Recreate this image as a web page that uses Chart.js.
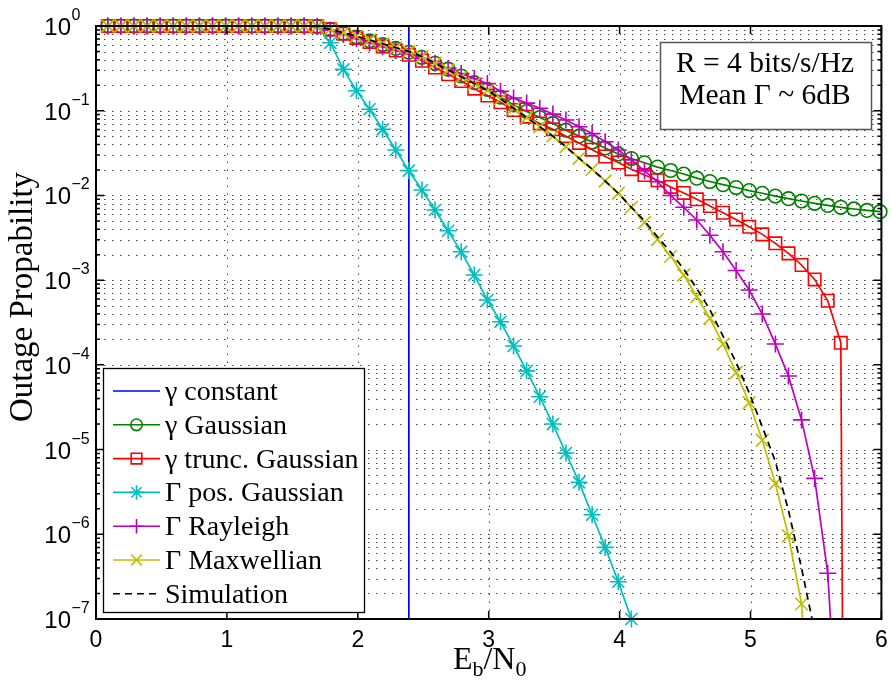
<!DOCTYPE html>
<html><head><meta charset="utf-8">
<script src="https://cdn.jsdelivr.net/npm/chart.js@4.4.1/dist/chart.umd.min.js"></script>
<style>html,body{margin:0;padding:0;background:#fff}#wrap{width:892px;height:682px;position:relative}</style>
</head><body><div id="wrap"><canvas id="c" width="892" height="682"></canvas></div>
<script>
// ---- data ----
const ebn0 = [0.09,0.19,0.29,0.39,0.49,0.59,0.69,0.79,0.89,0.99,1.09,1.19,1.29,1.39,1.49,1.59,1.69,1.79,1.89,1.99,2.09,2.19,2.29,2.39,2.49,2.59,2.69,2.79,2.89,2.99,3.09,3.19,3.29,3.39,3.49,3.59,3.69,3.79,3.89,3.99,4.09,4.19,4.29,4.39,4.49,4.59,4.69,4.79,4.89,4.99,5.09,5.19,5.29,5.39,5.49,5.59,5.69,5.79,5.89,5.99];
const constX = [0.09, 2.39, 2.39];
const constY = [1, 1, 1e-30];
const gaussY = [1,1,1,1,1,1,1,1,1,1,1,1,1,1,1,1,0.99,0.912,0.822,0.741,0.668,0.603,0.543,0.490,0.427,0.363,0.309,0.257,0.214,0.178,0.145,0.117,0.0977,0.0832,0.0708,0.0589,0.0501,0.0427,0.0363,0.0309,0.0272,0.0243,0.0216,0.0197,0.0179,0.0160,0.0146,0.0134,0.0124,0.0114,0.0106,0.00982,0.00916,0.00859,0.00807,0.00762,0.00724,0.00692,0.00665,0.00643];
const truncY = [1,1,1,1,1,1,1,1,1,1,1,1,1,1,1,1,0.99,0.912,0.813,0.724,0.646,0.575,0.513,0.457,0.389,0.324,0.269,0.224,0.182,0.151,0.126,0.102,0.0851,0.0708,0.0603,0.0501,0.0417,0.0347,0.0288,0.0245,0.0204,0.0174,0.0151,0.0126,0.0107,0.0090,0.0075,0.00625,0.00521,0.00427,0.00347,0.00272,0.00207,0.00151,0.00102,0.000571,0.000182,1e-30];
const posGaussY = [1,1,1,1,1,1,1,1,1,1,1,1,1,1,1,1,0.99,0.635,0.308,0.172,0.104,0.0603,0.0344,0.0196,0.0116,0.00673,0.00383,0.00216,0.00115,5.82e-4,3.23e-4,1.67e-4,8.5e-5,4.2e-5,2.0e-5,9.1e-6,4.1e-6,1.7e-6,7.0e-7,2.75e-7,1.0e-7];
const rayleighY = [1,1,1,1,1,1,1,1,1,1,1,1,1,1,1,1,0.98,0.891,0.794,0.708,0.631,0.569,0.513,0.468,0.417,0.363,0.316,0.275,0.240,0.209,0.170,0.141,0.123,0.107,0.0912,0.0776,0.0646,0.0537,0.0431,0.0344,0.0263,0.0195,0.0145,0.0100,0.00724,0.00513,0.00339,0.00216,0.00130,7.64e-4,3.98e-4,1.76e-4,7.4e-5,2.24e-5,4.57e-6,3.47e-7,1e-9];
const maxwellY = [1,1,1,1,1,1,1,1,1,1,1,1,1,1,1,1,0.99,0.912,0.832,0.759,0.684,0.617,0.556,0.501,0.437,0.363,0.302,0.251,0.209,0.174,0.138,0.107,0.0832,0.0646,0.0501,0.0376,0.0275,0.0204,0.0148,0.0106,0.00724,0.00479,0.00302,0.00191,0.00115,6.37e-4,3.55e-4,1.76e-4,8.13e-5,3.57e-5,1.29e-5,3.98e-6,9.55e-7,1.51e-7,6e-10];
const simY = [1,1,1,1,1,1,1,1,1,1,1,1,1,1,1,1,0.99,0.912,0.832,0.759,0.684,0.617,0.556,0.501,0.437,0.363,0.302,0.251,0.209,0.174,0.138,0.107,0.0832,0.0646,0.0501,0.0376,0.0275,0.0204,0.0148,0.0106,0.00724,5.01e-3,3.24e-3,2.14e-3,1.35e-3,7.94e-4,4.47e-4,2.19e-4,1.07e-4,4.68e-5,1.86e-5,7.24e-6,1.91e-6,3.98e-7,7.1e-8,1e-10];
const seriesLabels = ['\u03B3 constant','\u03B3 Gaussian','\u03B3 trunc. Gaussian','\u0393 pos. Gaussian','\u0393 Rayleigh','\u0393 Maxwellian','Simulation'];
const xTickValues = [0,1,2,3,4,5,6];
const xTickLabels = ['0','1','2','3','4','5','6'];
const yTickExponents = [0,-1,-2,-3,-4,-5,-6,-7];
const annotationLines = ['R = 4 bits/s/Hz', 'Mean \u0393 ~ 6dB'];

// ---- build ----
const pts = (ys, xs) => ys.map((v, i) => ({x: (xs || ebn0)[i], y: v}));
const SERIF = '"Liberation Serif", "DejaVu Serif", serif';
const SANS = '"Liberation Sans", Arial, sans-serif';
const clipStd = {left: 12, top: 12, right: 12, bottom: 0};
const styles = [
  {color:'#0000FF', marker:null, r:0},
  {color:'#008000', marker:'circle', r:6.8},
  {color:'#FF0000', marker:'rect', r:8.8},
  {color:'#00BFBF', marker:'star', r:8.5},
  {color:'#BF00BF', marker:'cross', r:8.5},
  {color:'#BFBF00', marker:'crossRot', r:9},
  {color:'#000000', marker:null, r:0, dash:[7,5]}
];
const datas = [pts(constY, constX), pts(gaussY), pts(truncY), pts(posGaussY), pts(rayleighY), pts(maxwellY), pts(simY)];
const datasets = datas.map((d, i) => ({
  label: seriesLabels[i],
  data: d,
  borderColor: styles[i].color,
  backgroundColor: 'rgba(0,0,0,0)',
  borderWidth: 1.7,
  borderDash: styles[i].dash || [],
  pointStyle: styles[i].marker || 'circle',
  pointRadius: styles[i].r,
  pointHoverRadius: styles[i].r,
  pointBorderColor: styles[i].color,
  pointBackgroundColor: 'rgba(0,0,0,0)',
  pointBorderWidth: 1.6,
  tension: 0,
  fill: false,
  order: 6 - i,
  clip: i === 3 ? {left: 12, top: 12, right: 12, bottom: 12} : clipStd
}));

function drawMarker(ctx, type, x, y, r) {
  ctx.beginPath();
  if (type === 'circle') { ctx.arc(x, y, r, 0, Math.PI * 2); }
  else if (type === 'rect') { const s = Math.SQRT1_2 * r; ctx.rect(x - s, y - s, 2 * s, 2 * s); }
  else {
    if (type === 'cross' || type === 'star') { ctx.moveTo(x, y - r); ctx.lineTo(x, y + r); ctx.moveTo(x - r, y); ctx.lineTo(x + r, y); }
    if (type === 'crossRot' || type === 'star') { const o = Math.SQRT1_2 * r; ctx.moveTo(x - o, y - o); ctx.lineTo(x + o, y + o); ctx.moveTo(x - o, y + o); ctx.lineTo(x + o, y - o); }
  }
  ctx.stroke();
}

const matlabPlugin = {
  id: 'matlab',
  beforeDraw(chart) {
    const ctx = chart.ctx; ctx.save(); ctx.fillStyle = '#fff'; ctx.fillRect(0, 0, chart.width, chart.height); ctx.restore();
  },
  beforeDatasetsDraw(chart) {
    const ctx = chart.ctx, a = chart.chartArea, xs = chart.scales.x, ys = chart.scales.y;
    ctx.save();
    ctx.strokeStyle = '#444'; ctx.lineWidth = 1; ctx.setLineDash([1.5, 6.5]);
    xTickValues.forEach(v => {
      if (v <= xs.min || v >= xs.max) return;
      const px = Math.round(xs.getPixelForValue(v)) + 0.5;
      ctx.beginPath(); ctx.moveTo(px, a.bottom); ctx.lineTo(px, a.top); ctx.stroke();
    });
    for (let k = -7; k <= -1; k++) {
      for (let m = 1; m <= 9; m++) {
        const v = m * Math.pow(10, k);
        if (v <= ys.min * 1.0001) continue;
        const py = Math.round(ys.getPixelForValue(v)) + 0.5;
        ctx.beginPath(); ctx.moveTo(a.left, py); ctx.lineTo(a.right, py); ctx.stroke();
      }
    }
    ctx.restore();
  },
  afterDatasetsDraw(chart) {
    const ctx = chart.ctx, a = chart.chartArea, xs = chart.scales.x, ys = chart.scales.y;
    ctx.save();
    ctx.setLineDash([]);
    // axes box
    ctx.strokeStyle = '#000'; ctx.lineWidth = 2;
    ctx.strokeRect(a.left, a.top, a.right - a.left, a.bottom - a.top);
    // ticks
    ctx.lineWidth = 1.5;
    xTickValues.forEach(v => {
      const px = xs.getPixelForValue(v);
      ctx.beginPath(); ctx.moveTo(px, a.bottom); ctx.lineTo(px, a.bottom - 8);
      ctx.moveTo(px, a.top); ctx.lineTo(px, a.top + 8); ctx.stroke();
    });
    for (let k = -7; k <= 0; k++) {
      for (let m = 1; m <= 9; m++) {
        const v = m * Math.pow(10, k);
        if (v > 1.0001) break;
        const py = ys.getPixelForValue(v);
        const len = m === 1 ? 8 : 4;
        ctx.beginPath(); ctx.moveTo(a.left, py); ctx.lineTo(a.left + len, py);
        ctx.moveTo(a.right, py); ctx.lineTo(a.right - len, py); ctx.stroke();
      }
    }
    // tick labels
    ctx.fillStyle = '#000';
    ctx.font = '23px ' + SANS; ctx.textAlign = 'center'; ctx.textBaseline = 'alphabetic';
    xTickValues.forEach((v, i) => { ctx.fillText(xTickLabels[i], xs.getPixelForValue(v), a.bottom + 28); });
    yTickExponents.forEach(e => {
      const py = ys.getPixelForValue(Math.pow(10, e));
      ctx.font = '24px ' + SANS; ctx.textAlign = 'right';
      ctx.fillText('10', 71, py + 9);
      ctx.font = '16px ' + SANS; ctx.textAlign = 'left';
      ctx.fillText(e === 0 ? '0' : '\u2212' + (-e), 71.5, py - 6);
    });
    // axis titles
    const cx = (a.left + a.right) / 2 + 1;
    const big = '32px ' + SERIF, small = '22px ' + SERIF;
    ctx.textAlign = 'left';
    ctx.font = big;
    const wE = ctx.measureText('E').width, wN = ctx.measureText('/N').width;
    ctx.font = small;
    const wb = ctx.measureText('b').width, w0 = ctx.measureText('0').width;
    let tx = cx - (wE + wb + wN + w0) / 2;
    const by = 669;
    ctx.font = big; ctx.fillText('E', tx, by); tx += wE;
    ctx.font = small; ctx.fillText('b', tx, by + 7); tx += wb;
    ctx.font = big; ctx.fillText('/N', tx, by); tx += wN;
    ctx.font = small; ctx.fillText('0', tx, by + 7);
    ctx.save();
    ctx.translate(32, 297); ctx.rotate(-Math.PI / 2);
    ctx.font = '33px ' + SERIF; ctx.textAlign = 'center';
    ctx.fillText('Outage Propability', 0, 0);
    ctx.restore();
    // legend
    const L = {x: 103.5, y: 368.5, w: 261, h: 244};
    ctx.fillStyle = '#fff'; ctx.fillRect(L.x, L.y, L.w, L.h);
    ctx.strokeStyle = '#000'; ctx.lineWidth = 1.3; ctx.strokeRect(L.x, L.y, L.w, L.h);
    chart.data.datasets.forEach((ds, i) => {
      const ry = 391 + i * 33.8;
      ctx.strokeStyle = ds.borderColor; ctx.lineWidth = 1.6;
      ctx.setLineDash(ds.borderDash || []);
      ctx.beginPath(); ctx.moveTo(113, ry); ctx.lineTo(160, ry); ctx.stroke();
      ctx.setLineDash([]);
      if (styles[i].marker) drawMarker(ctx, styles[i].marker, 136.5, ry, styles[i].r * 0.85);
      ctx.fillStyle = '#000'; ctx.font = '28px ' + SERIF; ctx.textAlign = 'left';
      ctx.fillText(ds.label, 165, ry + 9);
    });
    // annotation
    ctx.fillStyle = '#fff'; ctx.fillRect(660.5, 42.5, 211, 87);
    ctx.strokeStyle = '#555'; ctx.lineWidth = 1.5; ctx.strokeRect(660.5, 42.5, 211, 87);
    ctx.fillStyle = '#000'; ctx.font = '29.5px ' + SERIF; ctx.textAlign = 'center';
    ctx.fillText(annotationLines[0], 765, 72);
    ctx.fillText(annotationLines[1], 765, 104);
    ctx.restore();
  }
};

new Chart(document.getElementById('c'), {
  type: 'line',
  data: {datasets},
  options: {
    responsive: false,
    animation: false,
    devicePixelRatio: 1,
    layout: {padding: {left: 96, top: 26, right: 6, bottom: 63}},
    plugins: {legend: {display: false}, tooltip: {enabled: false}, title: {display: false}},
    events: [],
    scales: {
      x: {type: 'linear', min: 0, max: 6, display: false},
      y: {type: 'logarithmic', min: 1e-7, max: 1, display: false}
    }
  },
  plugins: [matlabPlugin]
});
</script>
</body></html>
